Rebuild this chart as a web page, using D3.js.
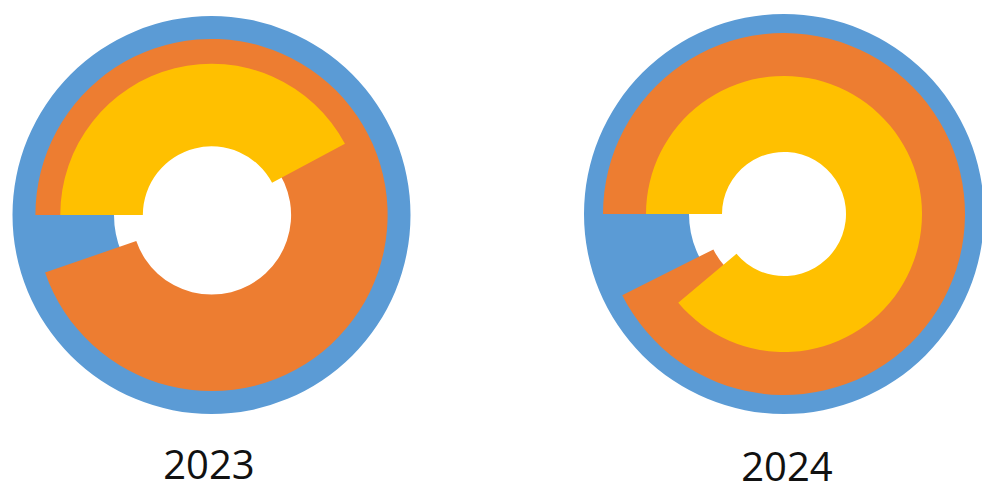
<!DOCTYPE html>
<html>
<head>
<meta charset="utf-8">
<script src="https://cdn.jsdelivr.net/npm/d3@7"></script>
<style>
  body { margin: 0; background: #fff; }
  svg { display: block; }
</style>
</head>
<body>
<div class="radial"></div>
<script>

// series drawn from the outside in
var seriesNames = ["Series 1", "Series 2", "Series 3"];
var seriesColors = ["#5b9bd5", "#ed7d31", "#ffc000"];

var years = ["2023", "2024"];

// share of a full turn, in percent
var sweep2023 = [100, 94.7, 42.2];
var sweep2024 = [100, 92.6, 88.9];

// bar extent along the radius, 0-100 of the chart radius
var outer2023 = [100, 88.5, 76];
var inner2023 = [49, 40, 34.5];
var outer2024 = [100, 90.5, 69];
var inner2024 = [47.5, 39.5, 31];


var width = 982,
  height = 492;

var svg = d3.select(".radial")
  .append("svg")
    .attr("width", width)
    .attr("height", height);

var charts = [
  { year: years[0], cx: 211.5, cy: 215, r: 199, sweep: sweep2023, outer: outer2023, inner: inner2023, labelX: 209, labelY: 479 },
  { year: years[1], cx: 784, cy: 214, r: 200, sweep: sweep2024, outer: outer2024, inner: inner2024, labelX: 787, labelY: 481 }
];

// start at 9 o'clock, run clockwise
var angle = d3.scaleLinear()
  .domain([0, 100])
  .range([-Math.PI / 2, 1.5 * Math.PI]);

charts.forEach(function(c) {

  var radius = d3.scaleLinear()
    .domain([0, 100])
    .range([0, c.r]);

  var arc = d3.arc()
    .startAngle(angle(0))
    .endAngle(function(d) { return angle(d.sweep); })
    .innerRadius(function(d) { return radius(d.inner); })
    .outerRadius(function(d) { return radius(d.outer); });

  var data = seriesNames.map(function(name, i) {
    return { name: name, sweep: c.sweep[i], outer: c.outer[i], inner: c.inner[i], color: seriesColors[i] };
  });

  var g = svg.append("g")
    .attr("transform", "translate(" + c.cx + "," + c.cy + ")");

  g.selectAll("path")
    .data(data)
    .enter()
    .append("path")
      .attr("d", arc)
      .style("fill", function(d) { return d.color; });

  svg.append("text")
    .attr("x", c.labelX)
    .attr("y", c.labelY)
    .attr("text-anchor", "middle")
    .style("font-family", "'Open Sans', sans-serif")
    .style("font-size", "40px")
    .style("fill", "#111")
    .text(c.year);
});

</script>
</body>
</html>
